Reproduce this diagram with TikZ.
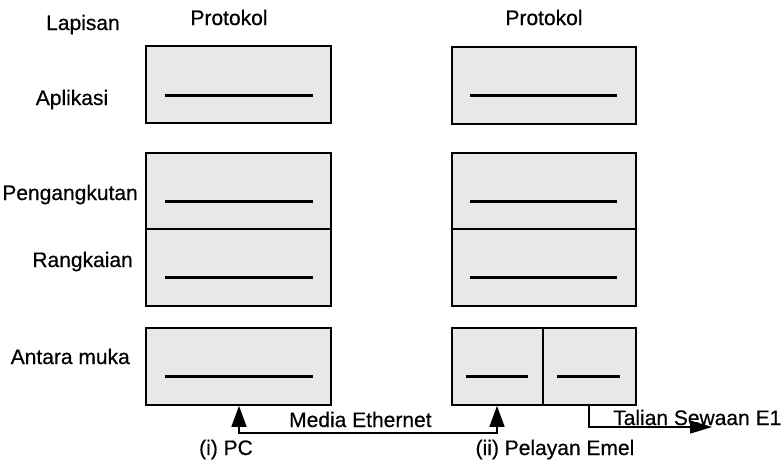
\documentclass[tikz,border=0pt]{standalone}
\usepackage{fontspec}
\setmainfont{Liberation Sans}
\newfontfamily\lblfont{Liberation Sans}[FakeBold=0.5]
\usetikzlibrary{arrows.meta,calc}
\begin{document}
\begin{tikzpicture}[x=1pt,y=-1pt,
  layerbox/.style={draw=black,line width=1.7pt,fill=black!9,inner sep=0pt},
  proto/.style={line width=3pt},
  link/.style={line width=1.3pt},
  lbl/.style={inner sep=0pt,font=\lblfont\fontsize{21}{25}\selectfont},
  tri/.tip={Triangle[length=21pt,width=15pt]}
]
\useasboundingbox (0,0) rectangle (784,464);
% boxes left
\node[layerbox,minimum width=185pt,minimum height=77pt] (appL) at (238.5,84.5) {};
\node[layerbox,minimum width=185pt,minimum height=76pt] (transL) at (238.5,191) {};
\node[layerbox,minimum width=185pt,minimum height=77pt] (netL) at (238.5,267.5) {};
\node[layerbox,minimum width=185pt,minimum height=77pt] (intL) at (238.5,366.5) {};
% boxes right
\node[layerbox,minimum width=184pt,minimum height=77pt] (appR) at (544,85.5) {};
\node[layerbox,minimum width=184pt,minimum height=76pt] (transR) at (544,191) {};
\node[layerbox,minimum width=184pt,minimum height=77pt] (netR) at (544,267.5) {};
\node[layerbox,minimum width=91pt,minimum height=77pt] (intRa) at (497.5,366.5) {};
\node[layerbox,minimum width=93pt,minimum height=77pt] (intRb) at (589.5,366.5) {};
% protocol lines
\draw[proto] ($(appL.west)+(20,10.5)$) -- ($(appL.east)+(-19,10.5)$);
\draw[proto] ($(transL.west)+(20,10)$) -- ($(transL.east)+(-19,10)$);
\draw[proto] ($(netL.west)+(20,9.5)$) -- ($(netL.east)+(-19,9.5)$);
\draw[proto] ($(intL.west)+(20,9.5)$) -- ($(intL.east)+(-19,9.5)$);
\draw[proto] ($(appR.west)+(19,9.5)$) -- ($(appR.east)+(-20,9.5)$);
\draw[proto] ($(transR.west)+(19,10)$) -- ($(transR.east)+(-20,10)$);
\draw[proto] ($(netR.west)+(19,9.5)$) -- ($(netR.east)+(-20,9.5)$);
\draw[proto] ($(intRa.west)+(15,9.5)$) -- ($(intRa.east)+(-16,9.5)$);
\draw[proto] ($(intRb.west)+(15,9.5)$) -- ($(intRb.east)+(-17,9.5)$);
% labels
\node[lbl,anchor=base west] (lapisan) at (46,30) {Lapisan};
\node[lbl,anchor=base] (protoL) at (229,25) {Protokol};
\node[lbl,anchor=base] (protoR) at (544,25) {Protokol};
\node[lbl,anchor=base] (aplikasi) at (72,105) {Aplikasi};
\node[lbl,anchor=base east] (pengangkutan) at (138,200) {Pengangkutan};
\node[lbl,anchor=base east] (rangkaian) at (133,267) {Rangkaian};
\node[lbl,anchor=base east] (antaramuka) at (130,364) {Antara muka};
\node[lbl,anchor=base west] (media) at (289,427) {Media Ethernet};
\node[lbl,anchor=base west] (talian) at (613,425) {Talian Sewaan E1};
\node[lbl,anchor=base] (pc) at (226,455) {(i) PC};
\node[lbl,anchor=base] (pelayan) at (555,455) {(ii) Pelayan Emel};
% connectors
\coordinate (pcjoint) at (239,433);
\coordinate (emjoint) at (497,433);
\draw[link,tri-tri] (intL.south -| pcjoint) -- (pcjoint) -- (emjoint) -- (intRa.south -| emjoint);
\coordinate (e1corner) at (589,427);
\coordinate (e1end) at (712,427);
\draw[link,-{Triangle[length=22pt,width=13pt]}] (intRb.south -| e1corner) -- (e1corner) -- (e1end);
\end{tikzpicture}
\end{document}
